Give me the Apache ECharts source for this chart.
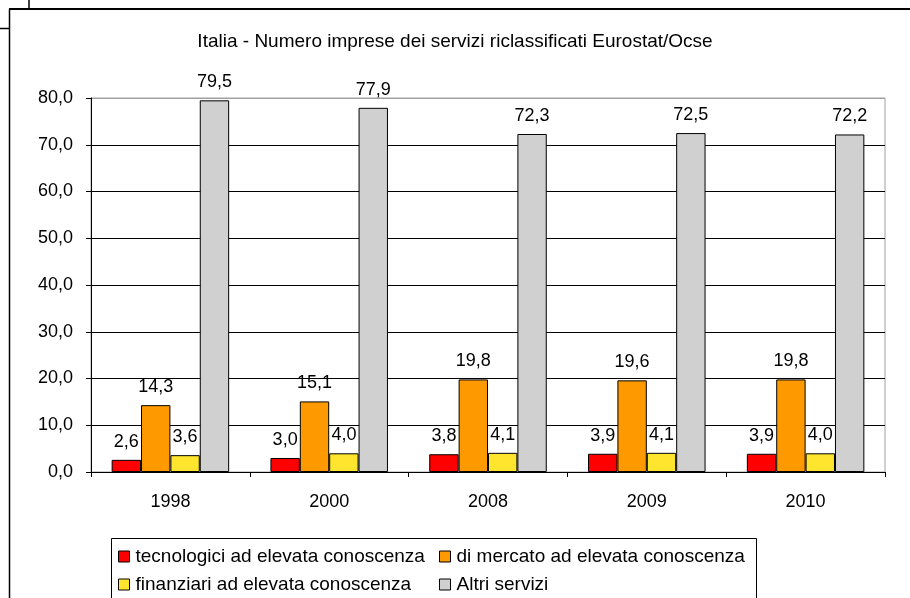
<!DOCTYPE html>
<html><head><meta charset="utf-8">
<script src="https://cdn.jsdelivr.net/npm/echarts@6/dist/echarts.min.js"></script>
<style>html,body{margin:0;padding:0;background:#fff}#c{width:910px;height:598px}</style>
</head><body><div id="c"></div>
<script>
var categories = ['1998','2000','2008','2009','2010'];
var tecnologici = [2.6, 3.0, 3.8, 3.9, 3.9];
var mercato = [14.3, 15.1, 19.8, 19.6, 19.8];
var finanziari = [3.6, 4.0, 4.1, 4.1, 4.0];
var altri = [79.5, 77.9, 72.3, 72.5, 72.2];
var seriesNames = ['tecnologici ad elevata conoscenza','di mercato ad elevata conoscenza','finanziari ad elevata conoscenza','Altri servizi'];
var seriesColors = ['#FF0000','#FF9900','#FFE52E','#D0D0D0'];
var titleText = 'Italia - Numero imprese dei servizi riclassificati Eurostat/Ocse';

var FONT = '"Liberation Sans", Arial, sans-serif';
function fmt(v){ return Number(v).toFixed(1).replace('.', ','); }
var dataSets = [tecnologici, mercato, finanziari, altri];
var series = dataSets.map(function(d, i){
  return {
    name: seriesNames[i], type: 'bar', data: d,
    barGap: '0%', barCategoryGap: '26%',
    itemStyle: {color: seriesColors[i], borderColor: '#000', borderWidth: 1},
    label: {show: true, position: 'top', distance: 9, color: '#000', fontSize: 18, fontFamily: FONT,
      formatter: function(p){ return fmt(p.value); }},
    animation: false
  };
});
var splitColors = ['#000','#000','#000','#000','#000','#000','#000','#000','#A0A0A0'];
var legendCommon = {orient: 'vertical', top: 547, height: 51, padding: 0, itemWidth: 11, itemHeight: 11, itemGap: 9, icon: 'rect',
  itemStyle: {borderColor: '#000', borderWidth: 1},
  textStyle: {fontSize: 19, color: '#000', fontFamily: FONT, padding: [0,0,0,1]}};
var chart = echarts.init(document.getElementById('c'), null, {renderer: 'canvas'});
chart.setOption({
  animation: false,
  backgroundColor: '#fff',
  title: {text: titleText, left: 450, textAlign: 'center', top: 27,
    textStyle: {fontSize: 19, fontWeight: 'normal', color: '#000', fontFamily: FONT}},
  grid: {left: 91, right: 25, top: 98, bottom: 126, show: true, borderColor: '#A0A0A0', borderWidth: 1},
  xAxis: {type: 'category', data: categories,
    axisLine: {lineStyle: {color: '#000', width: 1}},
    axisTick: {show: true, length: 5, lineStyle: {color: '#000'}},
    axisLabel: {color: '#000', fontSize: 18, fontFamily: FONT, margin: 21}},
  yAxis: {type: 'value', min: 0, max: 80, interval: 10,
    axisLine: {show: true, lineStyle: {color: '#000'}},
    axisTick: {show: true, length: 5, lineStyle: {color: '#000'}},
    axisLabel: {color: '#000', fontSize: 18, fontFamily: FONT, margin: 18, formatter: function(v){ return fmt(v); }},
    splitLine: {show: true, lineStyle: {color: splitColors, width: 1}}},
  legend: [
    Object.assign({data: [seriesNames[0], seriesNames[2]], left: 118}, legendCommon),
    Object.assign({data: [seriesNames[1], seriesNames[3]], left: 439}, legendCommon)
  ],
  graphic: [
    {type: 'rect', shape: {x: 111.5, y: 538.5, width: 645, height: 80}, style: {fill: 'none', stroke: '#000', lineWidth: 1}, z: -1},
    {type: 'line', shape: {x1: 9, y1: 9, x2: 910, y2: 9}, style: {stroke: '#000', lineWidth: 2}},
    {type: 'line', shape: {x1: 9.5, y1: 9, x2: 9.5, y2: 598}, style: {stroke: '#000', lineWidth: 1.5}},
    {type: 'line', shape: {x1: 29, y1: 0, x2: 29, y2: 9}, style: {stroke: '#000', lineWidth: 1.5}},
    {type: 'line', shape: {x1: 0, y1: 28.5, x2: 9, y2: 28.5}, style: {stroke: '#000', lineWidth: 1.5}}
  ],
  series: series
});
</script></body></html>
